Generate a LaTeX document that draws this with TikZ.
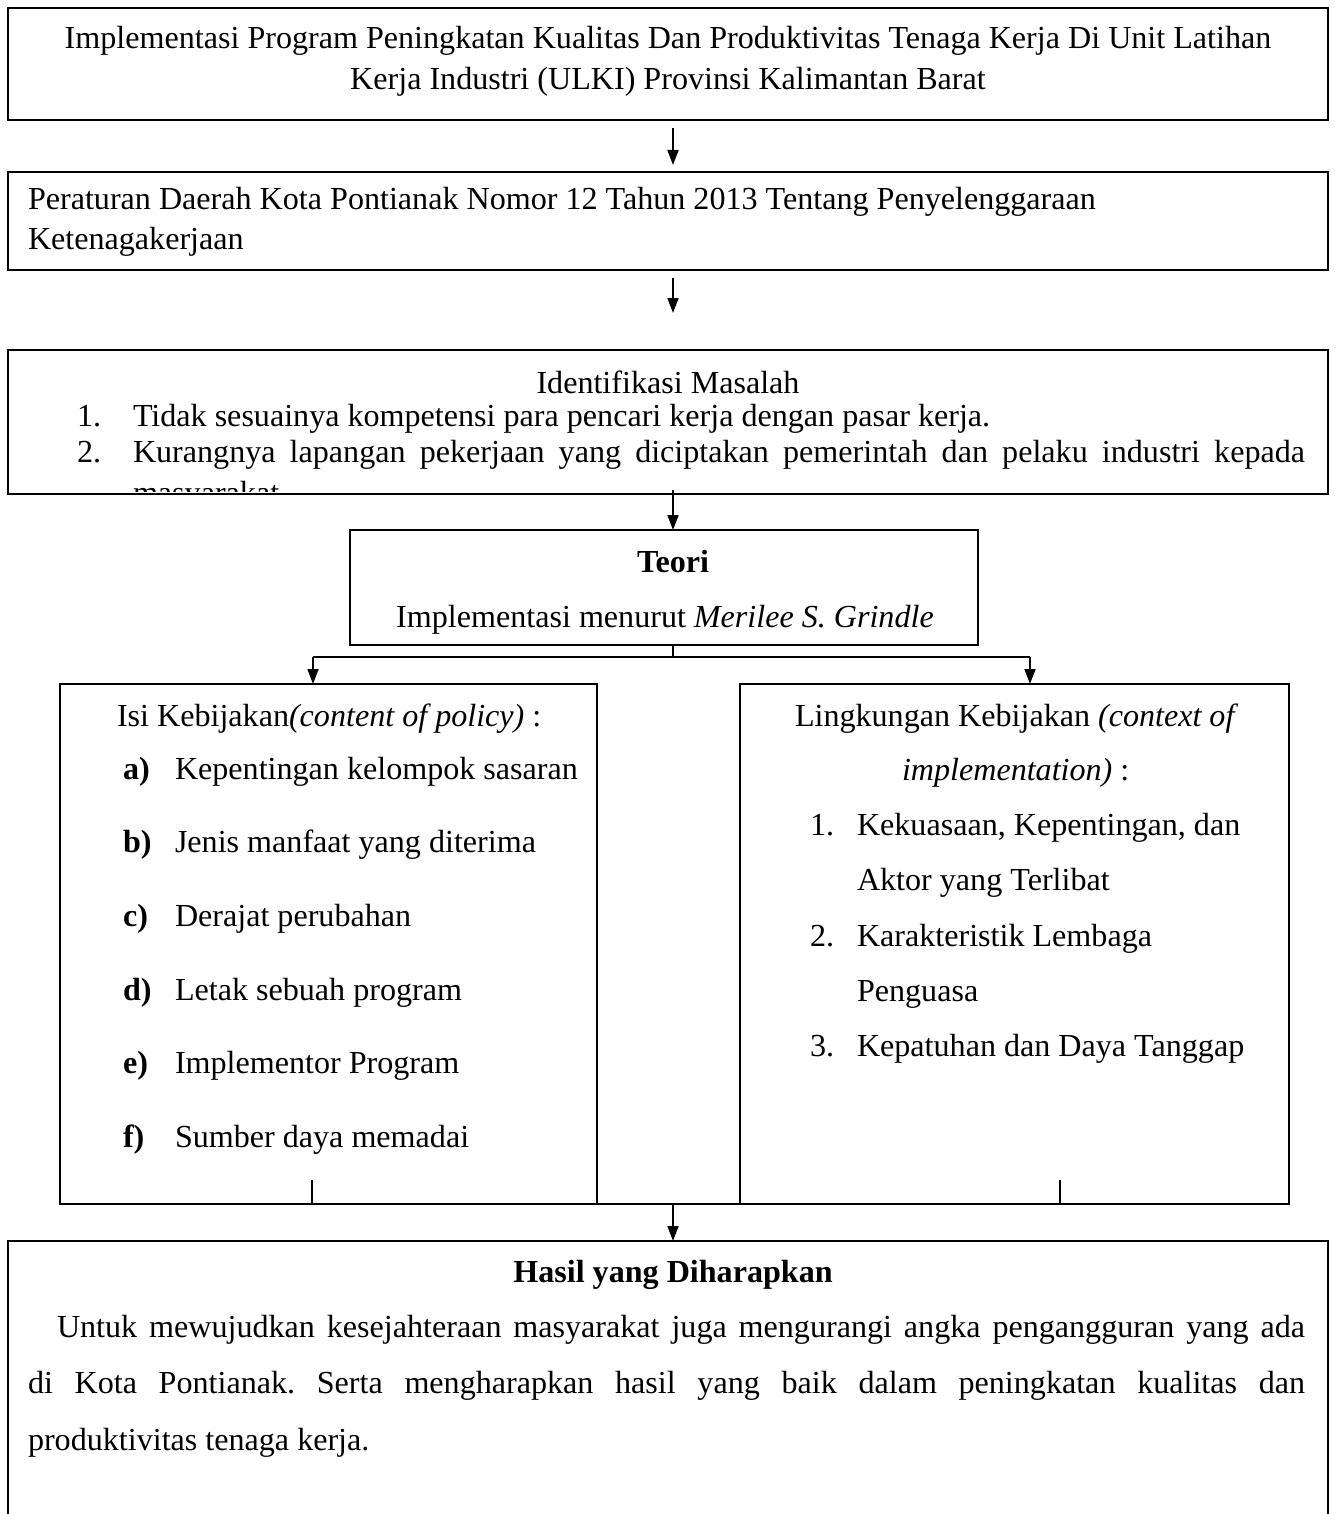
\documentclass[tikz,border=0pt]{standalone}
\usepackage{fontspec}
\setmainfont{Liberation Serif}
\usetikzlibrary{arrows.meta}
\newcommand\fz{\fontsize{32.1}{38}\selectfont\frenchspacing}
\begin{document}
\begin{tikzpicture}[x=1pt,y=-1pt,
  box/.style={draw,line width=2.8pt,inner sep=0pt,outer sep=0pt},
  sbox/.style={draw,line width=2pt,inner sep=0pt,outer sep=0pt},
  tw/.style={inner sep=0pt,outer sep=0pt,anchor=base west,font=\fz},
  tc/.style={inner sep=0pt,outer sep=0pt,anchor=base,font=\fz},
  conn/.style={line width=1.6pt},
  arr/.style={line width=1.6pt,-{Triangle[length=15pt,width=11pt]}}
]
\useasboundingbox (0,0) rectangle (1334,1514);
\clip (0,0) rectangle (1334,1514);
% boxes
\node[box,minimum width=1320pt,minimum height=112pt] (b1) at (668,64) {};
\node[box,minimum width=1320pt,minimum height=98pt] (b2) at (668,221) {};
\node[box,minimum width=1320pt,minimum height=144pt] (b3) at (668,422) {};
\node[sbox,minimum width=628pt,minimum height=115pt] (teori) at (664,587.5) {};
\node[sbox,minimum width=537pt,minimum height=520pt] (lbox) at (328.5,944) {};
\node[sbox,minimum width=549pt,minimum height=520pt] (rbox) at (1014.5,944) {};
\node[box,minimum width=1320pt,minimum height=320pt] (b4) at (668,1401) {};
% box 1 text
\node[tc] (t11) at (668,49) {Implementasi Program Peningkatan Kualitas Dan Produktivitas Tenaga Kerja Di Unit Latihan};
\node[tc] (t12) at (668,90) {Kerja Industri (ULKI) Provinsi Kalimantan Barat};
% box 2 text
\node[tw] (t21) at (28,210) {Peraturan Daerah Kota Pontianak Nomor 12 Tahun 2013 Tentang Penyelenggaraan};
\node[tw] (t22) at (28,250) {Ketenagakerjaan};
% box 3 text
\node[tc] (t30) at (668,393) {Identifikasi Masalah};
\node[tw] (t31n) at (77,426) {1.};
\node[tw] (t31) at (133,426) {Tidak sesuainya kompetensi para pencari kerja dengan pasar kerja.};
\node[tw] (t32n) at (77,462) {2.};
\node[tw] (t32) at (133,462) {\makebox[1172pt][s]{Kurangnya lapangan pekerjaan yang diciptakan pemerintah dan pelaku industri kepada}};
\begin{scope}
\clip (10,350) rectangle (1326,491);
\node[tw] (t33) at (133,503) {masyarakat.};
\end{scope}
% teori text
\node[tc,font=\fz\bfseries] (tt1) at (673,572) {Teori};
\node[tc] (tt2) at (665,627) {Implementasi menurut \textit{Merilee S. Grindle}};
% left box text
\node[tw] (l0) at (117,726) {Isi Kebijakan\textit{(content of policy)} :};
\foreach \lab/\txt/\yy [count=\i] in {a)/Kepentingan kelompok sasaran/779,
  b)/Jenis manfaat yang diterima/852,
  c)/Derajat perubahan/926,
  d)/Letak sebuah program/1000,
  e)/Implementor Program/1073,
  f)/Sumber daya memadai/1147}{
  \node[tw] (ll\i) at (123,\yy) {\textbf{\lab}};
  \node[tw] (lt\i) at (175,\yy) {\txt};
}
% right box text
\node[tw] (r0) at (795,726) {Lingkungan Kebijakan \textit{(context of}};
\node[tw] (r0b) at (902,780) {\textit{implementation)} :};
\node[tw] (r1n) at (810,835) {1.};
\node[tw] (r1) at (857,835) {Kekuasaan, Kepentingan, dan};
\node[tw] (r1b) at (857,890) {Aktor yang Terlibat};
\node[tw] (r2n) at (810,946) {2.};
\node[tw] (r2) at (857,946) {Karakteristik Lembaga};
\node[tw] (r2b) at (857,1001) {Penguasa};
\node[tw] (r3n) at (810,1056) {3.};
\node[tw] (r3) at (857,1056) {Kepatuhan dan Daya Tanggap};
% bottom box text
\node[tc,font=\fz\bfseries] (h0) at (673,1282) {Hasil yang Diharapkan};
\node[tw] (h1) at (57,1337) {\makebox[1248pt][s]{Untuk mewujudkan kesejahteraan masyarakat juga mengurangi angka pengangguran yang ada}};
\node[tw] (h2) at (28,1393) {\makebox[1277pt][s]{di Kota Pontianak. Serta mengharapkan hasil yang baik dalam peningkatan kualitas dan}};
\node[tw] (h3) at (28,1450) {produktivitas tenaga kerja.};
% connectors
\coordinate (a1s) at (673,128); \coordinate (a1e) at (673,165);
\coordinate (a2s) at (673,278); \coordinate (a2e) at (673,313);
\coordinate (a3s) at (673,490); \coordinate (a3e) at (673,530);
\coordinate (ts) at (673,645); \coordinate (tj) at (673,657);
\coordinate (jl) at (313,657); \coordinate (jr) at (1030,657);
\coordinate (jle) at (313,684); \coordinate (jre) at (1030,684);
\coordinate (lt) at (312,1180); \coordinate (lb) at (312,1204);
\coordinate (rt) at (1060,1180); \coordinate (rb) at (1060,1204);
\coordinate (m) at (673,1204); \coordinate (me) at (673,1241);
\draw[arr] (a1s) -- (a1e);
\draw[arr] (a2s) -- (a2e);
\draw[arr] (a3s) -- (a3e);
\draw[conn] (ts) -- (tj);
\draw[conn] (jl) -- (jr);
\draw[arr] (jl) -- (jle);
\draw[arr] (jr) -- (jre);
\draw[conn] (lt) -- (lb);
\draw[conn] (rt) -- (rb);
\draw[conn] (lbox.south east) -- (rbox.south west);
\draw[arr] (m) -- (me);
\end{tikzpicture}
\end{document}
